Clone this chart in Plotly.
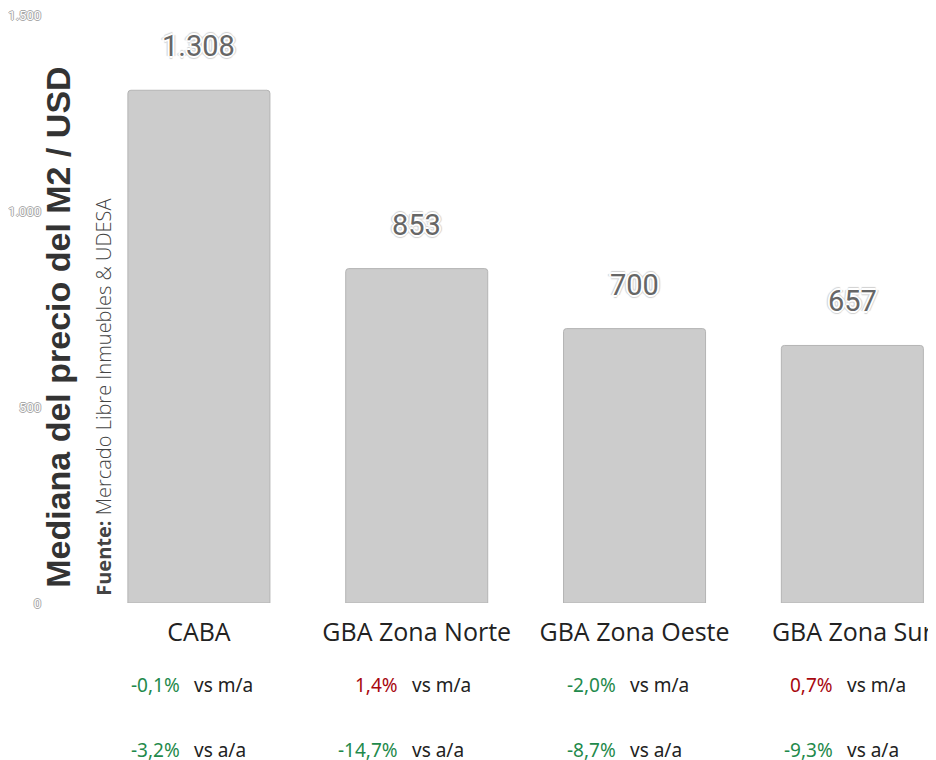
import plotly.graph_objects as go

# data
zonas = ["CABA", "GBA Zona Norte", "GBA Zona Oeste", "GBA Zona Sur"]
mediana_usd = [1308, 853, 700, 657]
var_mensual = ["-0,1%", "1,4%", "-2,0%", "0,7%"]
var_anual = ["-3,2%", "-14,7%", "-8,7%", "-9,3%"]
y_ticks = [0, 500, 1000, 1500]

VERDE = "#1f8a4c"
ROJO = "#a8080f"

HALO = (
    "2px 0 0 #fff, -2px 0 0 #fff, 0 2px 0 #fff, 0 -2px 0 #fff, "
    "3px 0 1px #d0d0d0, -3px 0 1px #d0d0d0, 0 3px 1px #d0d0d0, 0 -3px 1px #d0d0d0"
)


def color_var(txt):
    return VERDE if txt.startswith("-") else ROJO


def miles(v):
    return f"{v:,}".replace(",", ".")


fig = go.Figure()

fig.add_trace(
    go.Bar(
        x=zonas,
        y=mediana_usd,
        width=0.652,
        marker=dict(color="#cccccc", line=dict(color="#b4b4b4", width=1), cornerradius=3),
        showlegend=False,
        hoverinfo="skip",
    )
)

annotations = []

# bar value labels
for z, v in zip(zonas, mediana_usd):
    annotations.append(
        dict(
            x=z,
            y=v,
            text=miles(v),
            showarrow=False,
            yshift=44,
            xanchor="center",
            yanchor="middle",
            font=dict(family="Roboto", size=29, color="#666666", shadow=HALO),
        )
    )

# variations below each category
for z, m, a in zip(zonas, var_mensual, var_anual):
    for pct, sufijo, yy in [(m, "vs m/a", -0.1395), (a, "vs a/a", -0.25)]:
        annotations.append(
            dict(
                x=z, y=yy, xref="x", yref="paper",
                xshift=-17, xanchor="right", yanchor="middle",
                text=pct, showarrow=False,
                font=dict(family="Noto Sans", size=19, color=color_var(pct)),
            )
        )
        annotations.append(
            dict(
                x=z, y=yy, xref="x", yref="paper",
                xshift=-7, xanchor="left", yanchor="middle",
                text=sufijo, showarrow=False,
                font=dict(family="Noto Sans", size=19, color="#222222"),
            )
        )

# axis title and source
annotations.append(
    dict(
        x=0, y=0.468, xref="paper", yref="paper",
        xshift=-32, xanchor="center", yanchor="middle",
        text="<b>Mediana del precio del M2 / USD</b>",
        textangle=-90, showarrow=False,
        font=dict(family="Liberation Sans", size=34, color="#333333"),
    )
)
annotations.append(
    dict(
        x=0, y=0.349, xref="paper", yref="paper",
        xshift=14, xanchor="center", yanchor="middle",
        text="<b>Fuente:</b> Mercado Libre Inmuebles & UDESA",
        textangle=-90, showarrow=False,
        font=dict(family="Open Sans", size=20, color="#444444", weight=300),
    )
)

fig.update_layout(
    width=928,
    height=752,
    margin=dict(l=82, r=0, t=7, b=157),
    plot_bgcolor="white",
    paper_bgcolor="white",
    separators=",.",
    annotations=annotations,
    xaxis=dict(
        type="category",
        range=[-0.5, 3.384],
        showgrid=False,
        showline=False,
        ticks="",
        ticklabelstandoff=12,
        tickfont=dict(family="Open Sans", size=25, color="#222222"),
    ),
    yaxis=dict(
        range=[0, 1500],
        tickvals=y_ticks,
        ticktext=[miles(t) for t in y_ticks],
        showgrid=False,
        zeroline=False,
        showline=False,
        ticks="",
        ticklabelstandoff=48,
        ticklabeloverflow="allow",
        tickfont=dict(
            family="Roboto",
            size=13,
            color="white",
            shadow="1px 0 0 #aaa, -1px 0 0 #aaa, 0 1px 0 #aaa, 0 -1px 0 #aaa",
        ),
    ),
)

# the page is exactly the window size, keep scrollbars away
fig.write_html("out.html", post_script="document.body.style.overflow = 'hidden';")
